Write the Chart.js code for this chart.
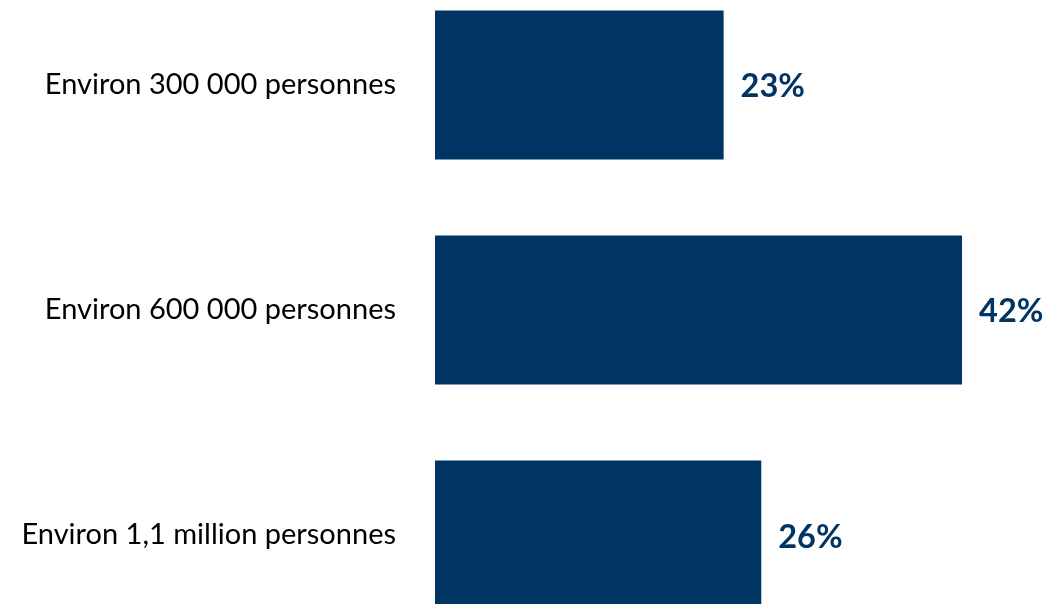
<!DOCTYPE html>
<html><head><meta charset="utf-8">
<script src="https://cdn.jsdelivr.net/npm/chart.js@4/dist/chart.umd.min.js"></script>
<style>
html,body{margin:0;padding:0;background:#fff;overflow:hidden;width:1048px;height:604px;position:relative}
#c{position:absolute;left:0;top:-76px;width:1048px;height:772px}
</style></head><body>
<canvas id="c" width="1048" height="772"></canvas>
<script>
const categories = ["Environ 300 000 personnes", "Environ 600 000 personnes", "Environ 1,1 million personnes"];
const values = [23, 42, 26];
const valueLabels = ["23%", "42%", "26%"];

const NAVY = '#003462';
const dataLabels = {
  id: 'dataLabels',
  afterDatasetsDraw(chart) {
    const ctx = chart.ctx;
    const meta = chart.getDatasetMeta(0);
    ctx.save();
    ctx.font = 'bold 32.5px Lato, "Open Sans", sans-serif';
    ctx.fillStyle = NAVY;
    ctx.textAlign = 'left';
    ctx.textBaseline = 'middle';
    meta.data.forEach((bar, i) => {
      ctx.fillText(valueLabels[i], bar.x + 17, bar.y + 2);
    });
    ctx.restore();
  }
};

new Chart(document.getElementById('c'), {
  type: 'bar',
  data: {
    labels: categories,
    datasets: [{
      data: values,
      backgroundColor: NAVY,
      borderWidth: 0,
      barPercentage: 0.662,
      categoryPercentage: 1
    }]
  },
  options: {
    indexAxis: 'y',
    responsive: false,
    animation: false,
    devicePixelRatio: 1,
    layout: { padding: 0 },
    plugins: { legend: { display: false }, tooltip: { enabled: false } },
    scales: {
      x: { min: 0, max: 48.85, display: false },
      y: {
        grid: { display: false },
        border: { display: false },
        ticks: {
          color: '#000',
          font: { family: 'Lato, "Open Sans", sans-serif', size: 29 },
          padding: 31
        },
        afterFit(scale) { scale.width = 435; }
      }
    }
  },
  plugins: [dataLabels]
});
</script>
</body></html>
